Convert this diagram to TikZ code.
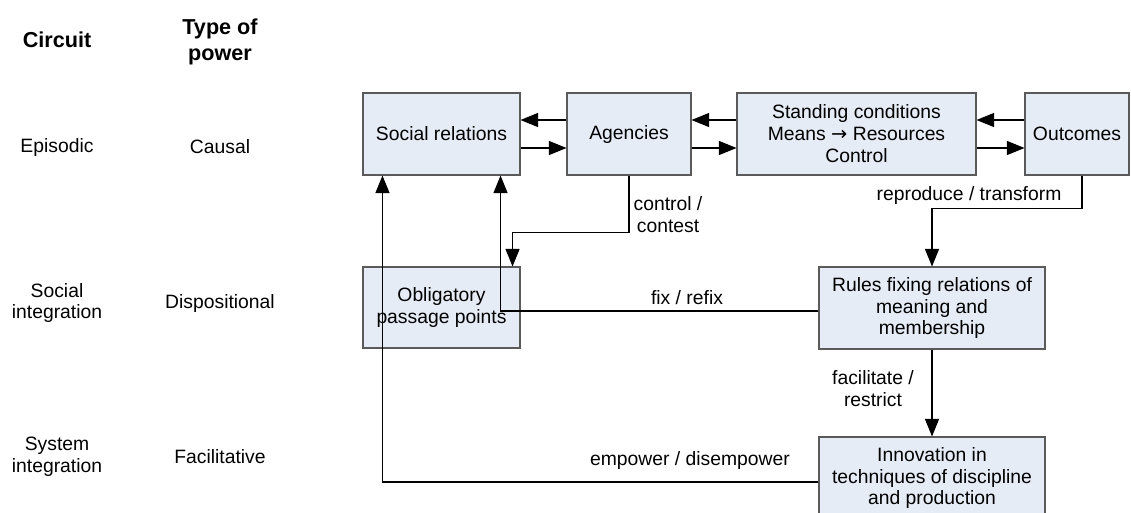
\documentclass[tikz,border=0pt]{standalone}
\usepackage{fontspec}
\setmainfont{Liberation Sans}
\newfontfamily\symfont{DejaVu Sans}
\usepackage{tikz}
\usetikzlibrary{positioning}
\usetikzlibrary{calc}
\usetikzlibrary{arrows.meta}
\definecolor{boxfill}{HTML}{E6ECF6}
\definecolor{boxline}{HTML}{5A5A5A}

\begin{document}
\begin{tikzpicture}[x=0.02cm, y=-0.02cm,
        font=\fontsize{11}{12.5}\selectfont,
        box/.style={draw=boxline, fill=boxfill, line width=0.6pt, align=center, inner sep=0pt, minimum height=82*0.02cm},
        arr/.style={-{Triangle[length=10pt,width=8pt]}, line width=0.6pt},
        lbl/.style={align=center, inner sep=1pt},
        head/.style={align=center, font=\fontsize{12.3}{15}\selectfont\bfseries}]
                \useasboundingbox (0,0) rectangle (1131,512);

                % Left columns
                \node[head] (hcirc) at (57,40) {Circuit};
                \node[head] (htype) at (220,42) {Type of\\power};
                \node[lbl] (cepi) at (57,147) {Episodic};
                \node[lbl] (tcaus) at (220,147) {Causal};
                \node[lbl] (csoc) at (57,303) {Social\\integration};
                \node[lbl] (tdisp) at (220,303) {Dispositional};
                \node[lbl] (csys) at (57,457) {System\\integration};
                \node[lbl] (tfac) at (220,457) {Facilitative};

                % Boxes
                \node[box, minimum width=157*0.02cm] (soc) at (441.5,134) {Social relations};
                \node[box, minimum width=124*0.02cm] (agen) at (629,134) {Agencies};
                \node[box, minimum width=239*0.02cm] (stand) at (856.5,134) {Standing conditions\\Means {\symfont →} Resources\\Control};
                \node[box, minimum width=104*0.02cm] (outc) at (1077,134) {Outcomes};
                \node[box, minimum width=157*0.02cm, minimum height=81*0.02cm] (obl) at (441.5,307.5) {Obligatory\\passage points};
                \node[box, minimum width=226*0.02cm] (rules) at (932,308) {Rules fixing relations of\\meaning and\\membership};
                \node[box, minimum width=226*0.02cm] (innov) at (932,478) {Innovation in\\techniques of discipline\\and production};

                % Episodic circuit
                \foreach \a/\b in {soc/agen, agen/stand, stand/outc} {
                    \draw[arr] ($(\a.east)+(0,14)$) -- ($(\b.west)+(0,14)$);
                    \draw[arr] ($(\b.west)+(0,-14)$) -- ($(\a.east)+(0,-14)$);
                }

                % Links between circuits
                \draw[arr] (agen.south) -- ++(0,57) -| ($(obl.north east)+(-8,0)$);
                \draw[arr] ($(outc.south)+(5,0)$) -- ++(0,33) -| (rules.north);
                \draw[arr] ($(rules.west)+(0,3)$) -| ($(soc.south east)+(-20,0)$);
                \draw[arr] ($(innov.west)+(0,4)$) -| ($(soc.south west)+(20,0)$);
                \draw[arr] (rules.south) -- (innov.north);

                % Connector labels
                \node[lbl] (lctl) at (668,215) {control /\\contest};
                \node[lbl] (lrep) at (969,195) {reproduce / transform};
                \node[lbl] (lfix) at (687,298) {fix / refix};
                \node[lbl] (lfac) at (873,389) {facilitate /\\restrict};
                \node[lbl] (lemp) at (690,460) {empower / disempower};
            \end{tikzpicture}
\end{document}
